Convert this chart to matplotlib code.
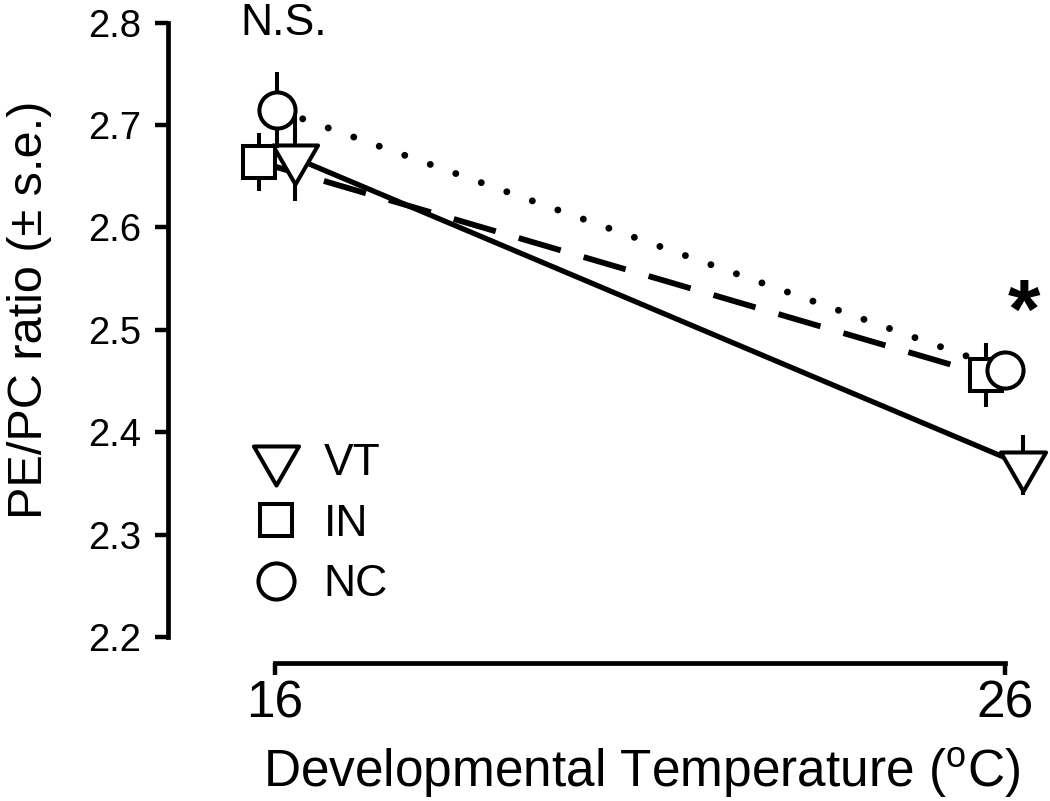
import matplotlib
matplotlib.use('Agg')
import matplotlib.pyplot as plt
from matplotlib.path import Path
from matplotlib.lines import Line2D
import numpy as np

plt.rcParams['font.family'] = ['Liberation Sans', 'DejaVu Sans']
plt.rcParams['mathtext.fontset'] = 'custom'
plt.rcParams['mathtext.rm'] = 'Liberation Sans'

# ---- data ----
temperatures = [16, 26]
groups = ['VT', 'IN', 'NC']
vt_mean = [2.668, 2.368]
vt_se = [0.042, 0.029]
in_mean = [2.664, 2.456]
in_se = [0.028, 0.031]
nc_mean = [2.715, 2.461]
nc_se = [0.037, 0.015]
y_ticks = [2.2, 2.3, 2.4, 2.5, 2.6, 2.7, 2.8]
x_ticks = [16, 26]

# horizontal dodge of the groups (degrees)
dodge = {'VT': [0.27, 0.24], 'IN': [-0.22, -0.26], 'NC': [0.03, 0.0]}

# ---- figure ----
W, H = 1050, 801
fig = plt.figure(figsize=(W / 100, H / 100), dpi=100)
ax = fig.add_axes([168 / W, 1 - 637 / H, (W - 168) / W, (637 - 22.7) / H])
ax.set_xlim(14.534, 26.616)
ax.set_ylim(2.2, 2.8)

a = 1 / np.sqrt(3)
tri = Path([(-1, a), (1, a), (0, -2 * a), (-1, a)], closed=True)

EW = 2.9
styles = {
    'VT': dict(marker=tri, ms=37.5, ls='-', lw=3.8),
    'IN': dict(marker='s', ms=22.7, ls=(0, (7.5, 4.1)), lw=4.2),
    'NC': dict(marker='o', ms=26.0, ls=(0, (0.001, 3.9)), lw=5.0),
}
means = {'VT': vt_mean, 'IN': in_mean, 'NC': nc_mean}
ses = {'VT': vt_se, 'IN': in_se, 'NC': nc_se}

z = 3
for g in groups:
    xs = np.array(temperatures, dtype=float) + np.array(dodge[g])
    st = styles[g]
    ax.plot(xs, means[g], color='black', lw=st['lw'], ls=st['ls'],
            dash_capstyle='round' if g == 'NC' else 'butt',
            solid_capstyle='butt', zorder=2, clip_on=False)
for g in groups:
    xs = np.array(temperatures, dtype=float) + np.array(dodge[g])
    st = styles[g]
    ax.errorbar(xs, means[g], yerr=ses[g], fmt='none', ecolor='black',
                elinewidth=EW, capsize=0, zorder=z, clip_on=False)
    ax.plot(xs, means[g], ls='none', marker=st['marker'], ms=st['ms'],
            mfc='white', mec='black', mew=EW, zorder=z + 1, clip_on=False)
    z += 2

# ---- axes styling ----
for s in ['top', 'right']:
    ax.spines[s].set_visible(False)
ax.spines['left'].set_bounds(2.2, 2.8)
ax.spines['left'].set_linewidth(3.4)
ax.spines['bottom'].set_bounds(16, 26)
ax.spines['bottom'].set_linewidth(3.4)
ax.spines['bottom'].set_position(('outward', 18.7))
ax.spines['left'].set_capstyle('projecting')
ax.spines['bottom'].set_capstyle('projecting')

ax.set_yticks(y_ticks)
ax.set_yticklabels([f'{v:.1f}' for v in y_ticks])
ax.set_xticks(x_ticks)
ax.set_xticklabels([str(v) for v in x_ticks])
ax.tick_params(axis='y', direction='out', length=9.5, width=3.2, pad=10,
               labelsize=27.5)
ax.tick_params(axis='x', direction='out', length=8.6, width=3.2, pad=3,
               labelsize=37)

ax.set_xlabel(r'Developmental Temperature ($\mathregular{^{o}}$C)', fontsize=37)
ax.xaxis.set_label_coords((642 - 168) / (W - 168), -(745 - 637) / 614.3)
ax.set_ylabel('PE/PC ratio (± s.e.)', fontsize=35)
ax.yaxis.set_label_coords((52 - 168) / (W - 168), (637 - 310) / 614.3)

# annotations
ax.text(16.12, 2.788, 'N.S.', fontsize=32, ha='center', va='baseline')
ax.text(26.26, 2.492, '*', fontsize=60, fontweight='bold', ha='center',
        va='baseline')

# legend
handles = [Line2D([], [], ls='none', marker=styles[g]['marker'],
                  ms=styles[g]['ms'], mfc='white', mec='black', mew=EW)
           for g in groups]
ax.legend(handles, groups, loc='upper left',
          bbox_to_anchor=((254 - 168) / (W - 168), (637 - 443) / 614.3),
          frameon=False, fontsize=32, handlelength=1.0, handletextpad=0.57,
          labelspacing=0.44, borderpad=0, borderaxespad=0)

fig.savefig('out.png', dpi=100)
